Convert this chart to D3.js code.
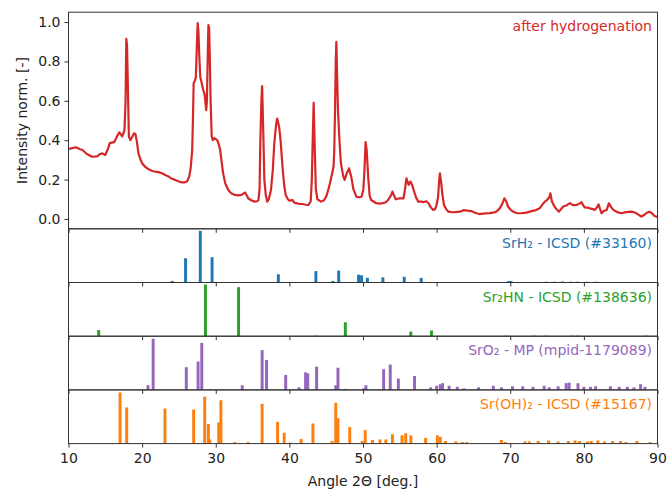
<!DOCTYPE html>
<html>
<head>
<meta charset="utf-8">
<script src="https://cdn.jsdelivr.net/npm/d3@7/dist/d3.min.js"></script>
<style>
  html, body { margin: 0; padding: 0; background: #fff; }
  svg text { font-family: "DejaVu Sans", sans-serif; }
</style>
</head>
<body>
<svg id="chart" width="670" height="492"></svg>
<script>
// ---------------- DATA ----------------
const xTicks = [10, 20, 30, 40, 50, 60, 70, 80, 90];
const yTicks = [0.0, 0.2, 0.4, 0.6, 0.8, 1.0];

const measuredLabel = "after hydrogenation";
// measured pattern: [2theta, normalized intensity]
const measured = [
 [10.0,0.355],[10.5,0.36],[11.0,0.364],[11.5,0.355],[11.9,0.35],[12.5,0.33],[13.2,0.316],[13.9,0.318],
 [14.3,0.33],[14.6,0.333],[15.0,0.325],[15.4,0.36],[15.6,0.385],[16.2,0.39],[16.6,0.42],[16.9,0.44],
 [17.3,0.42],[17.6,0.45],[17.75,0.6],[17.85,0.915],[17.95,0.88],[18.05,0.7],[18.2,0.42],[18.4,0.40],
 [18.7,0.42],[18.9,0.435],[19.1,0.43],[19.3,0.39],[19.5,0.333],[19.8,0.3],[20.0,0.283],[20.4,0.265],
 [20.9,0.252],[21.3,0.245],[21.8,0.24],[22.2,0.238],[22.7,0.232],[23.2,0.222],[23.6,0.215],[24.0,0.205],
 [24.5,0.198],[25.0,0.19],[25.4,0.186],[25.8,0.186],[26.1,0.19],[26.4,0.215],[26.6,0.26],[26.8,0.35],
 [26.9,0.5],[27.0,0.69],[27.15,0.70],[27.3,0.72],[27.45,0.9],[27.55,0.995],[27.65,0.95],[27.75,0.84],
 [27.9,0.72],[28.0,0.705],[28.3,0.655],[28.5,0.63],[28.7,0.553],[28.8,0.6],[28.9,0.8],[29.0,0.985],
 [29.1,0.97],[29.2,0.81],[29.3,0.6],[29.45,0.42],[29.6,0.40],[29.8,0.41],[30.0,0.405],[30.2,0.40],
 [30.4,0.38],[30.6,0.35],[30.8,0.29],[31.0,0.232],[31.3,0.18],[31.7,0.147],[32.1,0.13],[32.6,0.122],
 [33.0,0.12],[33.5,0.122],[33.8,0.13],[34.0,0.134],[34.2,0.12],[34.4,0.105],[34.8,0.095],[35.3,0.088],
 [35.6,0.09],[35.8,0.096],[35.95,0.15],[36.05,0.384],[36.2,0.6],[36.3,0.675],[36.45,0.45],[36.6,0.2],
 [36.8,0.12],[37.0,0.088],[37.2,0.1],[37.5,0.147],[37.75,0.25],[37.95,0.384],[38.2,0.48],[38.35,0.51],
 [38.6,0.47],[38.8,0.40],[39.1,0.25],[39.3,0.17],[39.5,0.122],[39.8,0.1],[40.0,0.093],[40.45,0.096],
 [40.6,0.085],[40.9,0.08],[41.3,0.077],[41.8,0.076],[42.2,0.072],[42.6,0.071],[42.9,0.09],[43.05,0.2],
 [43.2,0.45],[43.3,0.59],[43.45,0.35],[43.6,0.15],[43.8,0.10],[44.3,0.088],[44.7,0.095],[45.0,0.113],
 [45.3,0.15],[45.5,0.18],[45.8,0.23],[46.0,0.266],[46.1,0.35],[46.2,0.553],[46.3,0.8],[46.38,0.90],
 [46.5,0.7],[46.6,0.553],[46.8,0.4],[47.0,0.283],[47.3,0.22],[47.5,0.198],[47.8,0.232],[48.1,0.257],
 [48.4,0.215],[48.7,0.15],[49.1,0.113],[49.5,0.11],[49.8,0.113],[50.05,0.15],[50.2,0.25],[50.35,0.39],
 [50.5,0.35],[50.7,0.215],[50.9,0.12],[51.1,0.096],[51.8,0.08],[52.2,0.078],[52.7,0.08],[53.1,0.085],
 [53.4,0.096],[53.8,0.12],[54.0,0.139],[54.2,0.12],[54.45,0.10],[55.0,0.105],[55.5,0.105],[55.7,0.15],
 [55.9,0.206],[56.05,0.19],[56.2,0.173],[56.45,0.19],[56.7,0.17],[56.95,0.139],[57.2,0.11],[57.5,0.088],
 [58.0,0.088],[58.2,0.085],[58.6,0.09],[58.9,0.08],[59.2,0.06],[59.5,0.046],[59.8,0.05],[60.0,0.071],
 [60.2,0.113],[60.35,0.20],[60.45,0.232],[60.6,0.19],[60.8,0.12],[61.0,0.071],[61.3,0.05],[61.6,0.037],
 [62.0,0.035],[62.3,0.034],[62.8,0.036],[63.2,0.037],[63.7,0.045],[64.2,0.042],[64.7,0.04],[65.3,0.03],
 [65.8,0.025],[66.6,0.028],[67.2,0.03],[68.0,0.035],[68.5,0.05],[68.9,0.075],[69.2,0.105],[69.45,0.09],
 [69.7,0.063],[70.1,0.045],[70.4,0.037],[70.9,0.03],[71.5,0.029],[72.2,0.032],[72.9,0.04],[73.5,0.045],
 [74.0,0.054],[74.4,0.075],[74.7,0.088],[75.0,0.096],[75.3,0.11],[75.45,0.13],[75.65,0.09],[76.0,0.063],
 [76.4,0.045],[76.6,0.037],[76.9,0.05],[77.2,0.063],[77.7,0.07],[78.1,0.08],[78.5,0.07],[79.0,0.071],
 [79.4,0.078],[79.7,0.085],[79.9,0.07],[80.1,0.059],[80.5,0.058],[80.8,0.054],[81.2,0.05],[81.5,0.046],
 [81.8,0.06],[82.0,0.074],[82.2,0.05],[82.4,0.029],[82.7,0.04],[83.1,0.046],[83.4,0.08],[83.7,0.06],
 [84.0,0.046],[84.5,0.035],[85.1,0.029],[85.7,0.035],[86.5,0.037],[87.1,0.03],[87.8,0.012],[88.2,0.02],
 [88.5,0.03],[88.9,0.037],[89.2,0.03],[89.6,0.015],[90.0,0.01]
];

const refNames = ["SrH\u2082 - ICSD (#33160)", "Sr\u2082HN - ICSD (#138636)", "SrO\u2082 - MP (mpid-1179089)", "Sr(OH)\u2082 - ICSD (#15167)"];

const srh2 = [
 [24.1,0.03],[25.9,0.47],[27.9,1.0],[29.5,0.49],[37.3,0.01],[38.5,0.16],[43.6,0.22],[45.9,0.03],[46.7,0.23],
 [49.4,0.15],[49.8,0.14],[50.6,0.09],[52.7,0.10],[55.6,0.11],[57.9,0.09],[62.6,0.01],[64.3,0.01],[69.8,0.03],
 [70.1,0.03],[74.9,0.015],[76.0,0.015],[77.1,0.02],[78.2,0.015],[79.1,0.015],[80.4,0.015],[81.7,0.015],[83.5,0.01],[84.4,0.01]
];
const sr2hn = [
 [14.1,0.12],[28.6,1.0],[33.1,0.95],[43.5,0.01],[47.6,0.27],[56.5,0.09],[59.3,0.11],[69.5,0.01],[73.3,0.01],
 [74.9,0.01],[78.3,0.01],[79.1,0.01],[88.5,0.01]
];
const sro2 = [
 [20.8,0.09],[21.5,0.99],[26.0,0.44],[27.6,0.55],[28.1,0.91],[33.6,0.09],[36.3,0.77],[36.9,0.58],[39.5,0.29],
 [41.3,0.05],[42.2,0.34],[42.5,0.32],[43.7,0.45],[46.3,0.09],[46.6,0.43],[47.6,0.02],[50.1,0.03],[50.4,0.09],
 [52.8,0.40],[53.7,0.49],[54.8,0.22],[57.0,0.27],[59.2,0.05],[60.0,0.08],[60.5,0.11],[60.8,0.13],[61.7,0.08],
 [62.8,0.06],[63.7,0.03],[65.7,0.05],[67.7,0.08],[68.8,0.05],[70.3,0.07],[71.7,0.07],[73.1,0.06],[74.6,0.08],
 [75.3,0.05],[76.5,0.07],[77.6,0.13],[78.0,0.14],[79.2,0.13],[80.0,0.06],[80.9,0.06],[81.6,0.07],[83.6,0.07],
 [84.8,0.06],[85.9,0.06],[86.8,0.05],[87.7,0.11],[88.3,0.06]
];
const sroh2 = [
 [17.0,0.99],[17.9,0.70],[23.1,0.68],[27.0,0.66],[28.5,0.91],[29.0,0.38],[29.2,0.08],[30.4,0.41],[30.7,0.84],
 [32.6,0.03],[34.4,0.03],[36.3,0.77],[38.4,0.42],[39.3,0.21],[40.1,0.02],[41.6,0.09],[43.2,0.39],[45.8,0.05],
 [46.3,0.79],[46.6,0.49],[48.2,0.32],[49.9,0.05],[50.3,0.26],[51.3,0.07],[52.3,0.08],[53.1,0.08],[54.0,0.18],
 [55.3,0.16],[55.8,0.20],[56.5,0.16],[58.5,0.11],[60.1,0.16],[60.5,0.13],[61.2,0.05],[62.6,0.04],[63.5,0.03],
 [64.1,0.03],[68.8,0.07],[69.3,0.03],[72.0,0.04],[72.6,0.04],[73.8,0.05],[75.2,0.06],[76.5,0.04],[77.9,0.05],
 [78.8,0.06],[79.4,0.05],[80.5,0.04],[81.0,0.05],[81.9,0.06],[82.8,0.04],[83.9,0.05],[85.0,0.05],[85.7,0.03],
 [87.2,0.05],[89.0,0.03]
];
const refSeries = [srh2, sr2hn, sro2, sroh2];
const refColors = ["#1f77b4", "#2ca02c", "#9467bd", "#ff7f0e"];
const lineColor = "#d62728";

// ---------------- LAYOUT ----------------
const svg = d3.select("#chart");
const L = 68.5, R = 657.5;
const mainTop = 12.2, mainBot = 228.8;
const panelH = 53.7;
const frameColor = "#333";
const fontSize = 14;

const x = d3.scaleLinear().domain([10, 90]).range([L, R]);
const y = d3.scaleLinear().domain([-0.05, 1.05]).range([mainBot, mainTop]);

// main line
svg.append("path")
  .datum(measured)
  .attr("fill", "none")
  .attr("stroke", lineColor)
  .attr("stroke-width", 2.2)
  .attr("stroke-linejoin", "round")
  .attr("d", d3.line().x(d => x(d[0])).y(d => y(d[1])));

// main frame
svg.append("rect").attr("x", L).attr("y", mainTop).attr("width", R - L).attr("height", mainBot - mainTop)
  .attr("fill", "none").attr("stroke", frameColor).attr("stroke-width", 1);

// y axis
const yAxis = svg.append("g").attr("transform", `translate(${L},0)`)
  .call(d3.axisLeft(y).tickValues(yTicks).tickFormat(d3.format(".1f")).tickSize(4).tickPadding(4));
yAxis.select(".domain").remove();
yAxis.selectAll("line").attr("stroke", frameColor);
yAxis.selectAll("text").attr("font-size", fontSize).attr("fill", "#222").style("font-family", "DejaVu Sans");

svg.append("text").attr("x", 652).attr("y", mainTop + 18.5).attr("text-anchor", "end")
  .attr("font-size", fontSize).attr("fill", lineColor).text(measuredLabel);

svg.append("text").attr("transform", `translate(27,${(mainTop + mainBot) / 2}) rotate(-90)`)
  .attr("text-anchor", "middle").attr("font-size", fontSize).attr("fill", "#222")
  .text("Intensity norm. [-]");

// reference panels
const barW = 0.4;
refSeries.forEach((data, i) => {
  const top = mainBot + i * panelH, bot = top + panelH;
  const ys = d3.scaleLinear().domain([0, 1.04]).range([bot, top]);
  const g = svg.append("g");
  g.selectAll("rect.bar").data(data).enter().append("rect")
    .attr("class", "bar")
    .attr("x", d => x(d[0] - barW / 2))
    .attr("width", x(10 + barW) - x(10))
    .attr("y", d => ys(d[1]))
    .attr("height", d => ys(0) - ys(d[1]))
    .attr("fill", refColors[i]);
  g.append("rect").attr("x", L).attr("y", top).attr("width", R - L).attr("height", panelH)
    .attr("fill", "none").attr("stroke", frameColor).attr("stroke-width", 1);
  const ta = g.append("g").attr("transform", `translate(0,${top})`)
    .call(d3.axisTop(x).tickValues(xTicks).tickSize(-4).tickFormat(""));
  ta.select(".domain").remove();
  ta.selectAll("line").attr("stroke", frameColor);
  g.append("text").attr("x", 652).attr("y", top + 19).attr("text-anchor", "end")
    .attr("font-size", fontSize).attr("fill", refColors[i]).text(refNames[i]);
});

// bottom x axis
const bottomY = mainBot + 4 * panelH;
const xAxis = svg.append("g").attr("transform", `translate(0,${bottomY})`)
  .call(d3.axisBottom(x).tickValues(xTicks).tickFormat(d3.format("d")).tickSize(4).tickPadding(5));
xAxis.select(".domain").remove();
xAxis.selectAll("line").attr("stroke", frameColor);
xAxis.selectAll("text").attr("font-size", fontSize).attr("fill", "#222").style("font-family", "DejaVu Sans");

svg.append("text").attr("x", (L + R) / 2).attr("y", 486).attr("text-anchor", "middle")
  .attr("font-size", fontSize).attr("fill", "#222").text("Angle 2\u0398 [deg.]");
</script>
</body>
</html>
